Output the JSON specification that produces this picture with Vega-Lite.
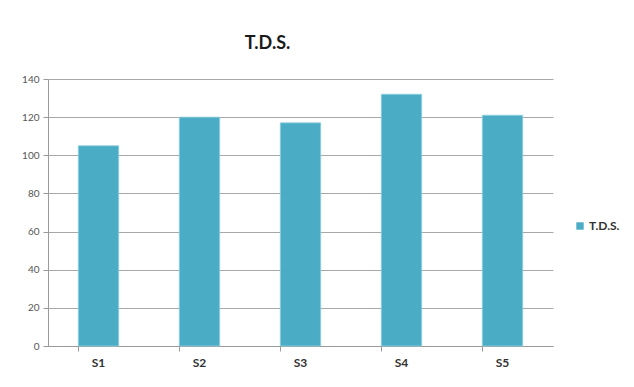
{
  "$schema": "https://vega.github.io/schema/vega-lite/v6.json",
  "autosize": {"type": "none"},
  "padding": {"left": 48, "top": 79, "right": 81, "bottom": 41},
  "width": 505,
  "height": 267,
  "background": "white",
  "title": {
    "text": "T.D.S.",
    "font": "Lato",
    "fontSize": 18,
    "fontWeight": "bold",
    "color": "#1a1a1a",
    "anchor": "middle",
    "dx": -33,
    "offset": 21
  },
  "data": {
    "values": [
      {"site": "S1", "tds": 105},
      {"site": "S2", "tds": 120},
      {"site": "S3", "tds": 117},
      {"site": "S4", "tds": 132},
      {"site": "S5", "tds": 121}
    ]
  },
  "mark": {"type": "bar", "stroke": "#8fd0e0", "strokeWidth": 0.8},
  "encoding": {
    "x": {
      "field": "site",
      "type": "nominal",
      "sort": null,
      "title": null,
      "scale": {"paddingInner": 0.6, "paddingOuter": 0.3},
      "axis": {
        "bandPosition": 0,
        "labelAngle": 0,
        "labelFont": "Lato",
        "labelFontSize": 12,
        "labelFontWeight": "bold",
        "labelColor": "#333333",
        "labelPadding": 6,
        "domainColor": "#9a9a9a",
        "tickColor": "#9a9a9a",
        "tickSize": 5,
        "grid": false
      }
    },
    "y": {
      "field": "tds",
      "type": "quantitative",
      "title": null,
      "scale": {"domain": [0, 140], "nice": false},
      "axis": {
        "values": [0, 20, 40, 60, 80, 100, 120, 140],
        "labelFont": "Lato",
        "labelFontSize": 10,
        "labelColor": "#555555",
        "labelPadding": 4,
        "domainColor": "#9a9a9a",
        "tickColor": "#9a9a9a",
        "tickSize": 5,
        "grid": true,
        "gridColor": "#a8a8a8",
        "gridWidth": 1
      }
    },
    "color": {
      "datum": "T.D.S.",
      "type": "nominal",
      "scale": {"range": ["#4BACC6"]},
      "legend": {
        "title": null,
        "orient": "none",
        "legendX": 526,
        "legendY": 141,
        "symbolType": "square",
        "symbolSize": 55,
        "symbolStrokeWidth": 0,
        "labelFont": "Lato",
        "labelFontSize": 12,
        "labelFontWeight": "bold",
        "labelColor": "#333333",
        "labelOffset": 3
      }
    }
  },
  "config": {"view": {"stroke": null}}
}
